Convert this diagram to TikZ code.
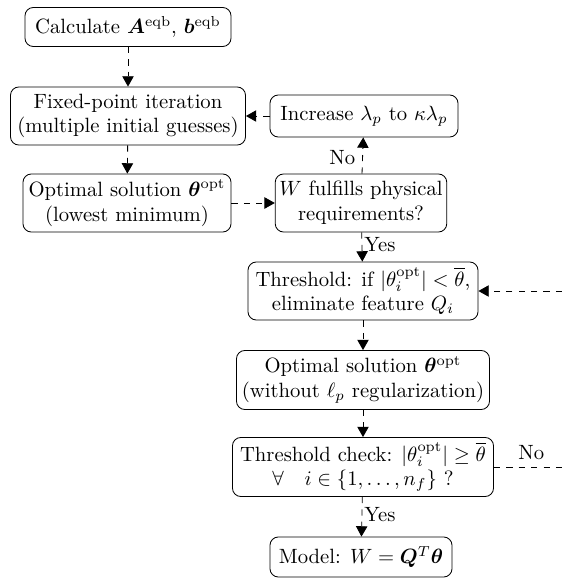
\documentclass[tikz,border=0pt]{standalone}
\usepackage{amsmath,bm}
\usetikzlibrary{arrows.meta}
\newlength\pxu
\setlength\pxu{0.484pt}
\begin{document}
\begin{tikzpicture}[x=\pxu,y=-\pxu,
  box/.style={draw,rounded corners=4pt,align=center,inner sep=2pt,line width=0.4pt},
  flow/.style={dashed,-{Triangle[length=5pt,width=5.5pt]},line width=0.4pt}]
\useasboundingbox (0,0) rectangle (562,580);
\node[box,minimum width=206\pxu,minimum height=39\pxu] (calc) at (128,27) {Calculate $\bm{A}^{\mathrm{eqb}}$, $\bm{b}^{\mathrm{eqb}}$};
\node[box,minimum width=235\pxu,minimum height=58\pxu] (fix) at (128,116) {Fixed-point iteration\\(multiple initial guesses)};
\node[box,minimum width=208\pxu,minimum height=58\pxu] (opt1) at (127,203) {Optimal solution $\bm{\theta}^{\mathrm{opt}}$\\(lowest minimum)};
\node[box,minimum width=188\pxu,minimum height=42\pxu] (inc) at (364,116) {Increase $\lambda_p$ to $\kappa\lambda_p$};
\node[box,minimum width=170\pxu,minimum height=58\pxu] (phys) at (361,203) {$W$ fulfills physical\\requirements?};
\node[box,minimum width=230\pxu,minimum height=58\pxu] (thr) at (363,291) {Threshold: if $|\theta_i^{\mathrm{opt}}|<\overline{\theta}$,\\eliminate feature $Q_i$};
\node[box,minimum width=253\pxu,minimum height=59\pxu] (opt2) at (363,380) {Optimal solution $\bm{\theta}^{\mathrm{opt}}$\\(without $\ell_p$ regularization)};
\node[box,minimum width=261\pxu,minimum height=59\pxu] (chk) at (363,467) {Threshold check: $|\theta_i^{\mathrm{opt}}|\geq\overline{\theta}$\\$\forall\quad i\in\{1,\ldots,n_f\}$ ?};
\node[box,minimum width=182\pxu,minimum height=40\pxu] (mod) at (361,557) {Model: $W=\bm{Q}^T\bm{\theta}$};
\coordinate (rin) at (562,291);
\coordinate (rout) at (562,467);
\draw[flow] (calc) -- (fix);
\draw[flow] (fix) -- (opt1);
\draw[flow] (opt1) -- (phys);
\draw[flow] (phys) -- node[left,pos=0.45]{No} (inc);
\draw[flow] (inc) -- (fix);
\draw[flow] (phys) -- node[right,pos=0.4,inner sep=1pt]{Yes} (thr);
\draw[flow] (thr) -- (opt2);
\draw[flow] (opt2) -- (chk);
\draw[flow] (chk) -- node[right,pos=0.45,inner sep=1pt]{Yes} (mod);
\draw[dashed,line width=0.4pt] (chk.east) -- node[above,pos=0.55]{No} (rout);
\draw[flow] (rin) -- (thr.east);
\end{tikzpicture}
\end{document}
